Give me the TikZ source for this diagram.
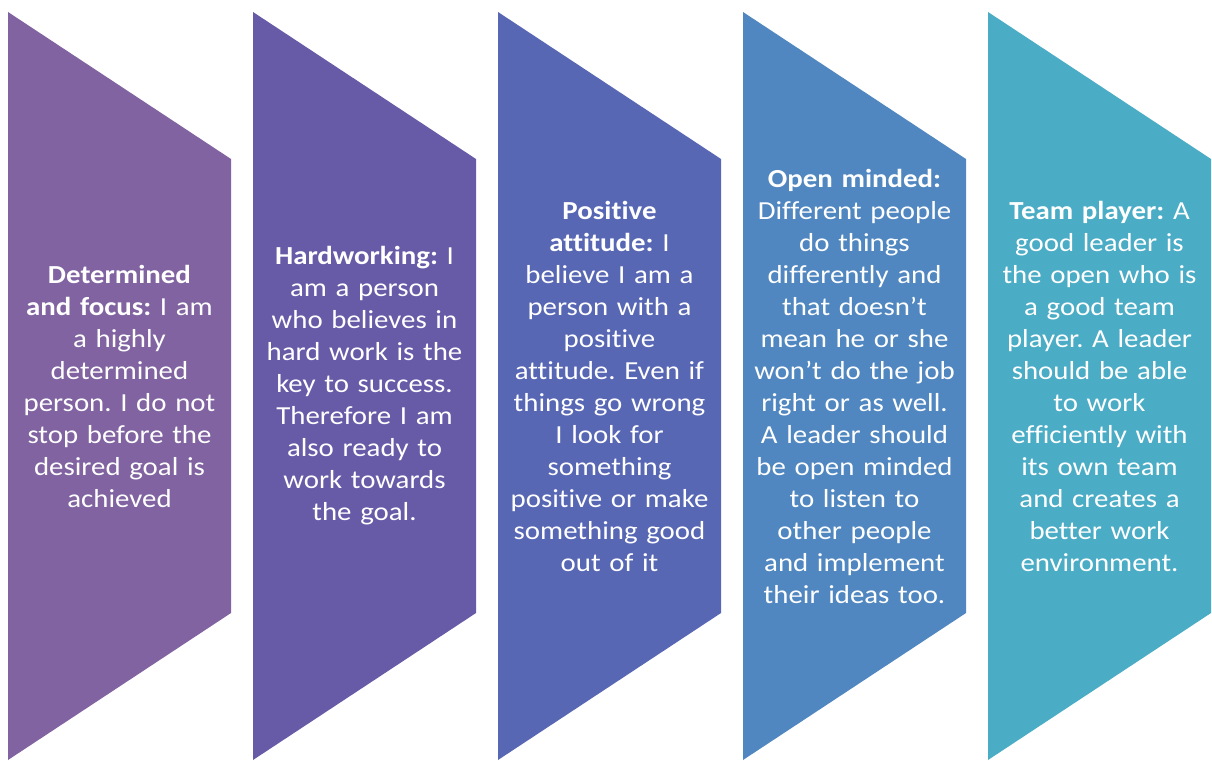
\documentclass[tikz,border=0pt]{standalone}
\usepackage{fontspec}
\setmainfont{Carlito}[FakeStretch=1.11, Ligatures={NoCommon}]
\usetikzlibrary{positioning}
\definecolor{traitA}{RGB}{128,99,160}
\definecolor{traitB}{RGB}{103,91,168}
\definecolor{traitC}{RGB}{88,103,180}
\definecolor{traitD}{RGB}{80,135,192}
\definecolor{traitE}{RGB}{75,172,198}
\frenchspacing
\begin{document}
\begin{tikzpicture}
  [
  x=1pt, y=-1pt,
  blurb/.style={text=white, align=center, text width=225pt, inner sep=0pt, font=\fontsize{26}{32}\selectfont}
  ]
\useasboundingbox (0,0) rectangle (1212,760);

\foreach \c [count=\i] in {traitA,traitB,traitC,traitD,traitE} {
  \fill[\c] ({8+245*(\i-1)},12) -- ++(223,147) -- ++(0,454) -- ++(-223,147) -- cycle;
}

\node[blurb] (t1) at (119.5,386) {\textbf{Determined}\\\textbf{and focus:} I am\\a highly\\determined\\person. I do not\\stop before the\\desired goal is\\achieved};
\node[blurb] (t2) at (364.5,386) {\textbf{Hardworking:} I\\am a person\\who believes in\\hard work is the\\key to success.\\Therefore I am\\also ready to\\work towards\\the goal.};
\node[blurb] (t3) at (609.5,386) {\textbf{Positive}\\\textbf{attitude:} I\\believe I am a\\person with a\\positive\\attitude. Even if\\things go wrong\\I look for\\something\\positive or make\\something good\\out of it};
\node[blurb] (t4) at (854.5,386) {\textbf{Open minded:}\\Different people\\do things\\differently and\\that doesn’t\\mean he or she\\won’t do the job\\right or as well.\\A leader should\\be open minded\\to listen to\\other people\\and implement\\their ideas too.};
\node[blurb] (t5) at (1099.5,386) {\textbf{Team player:} A\\good leader is\\the open who is\\a good team\\player. A leader\\should be able\\to work\\efficiently with\\its own team\\and creates a\\better work\\environment.};
\end{tikzpicture}
\end{document}
